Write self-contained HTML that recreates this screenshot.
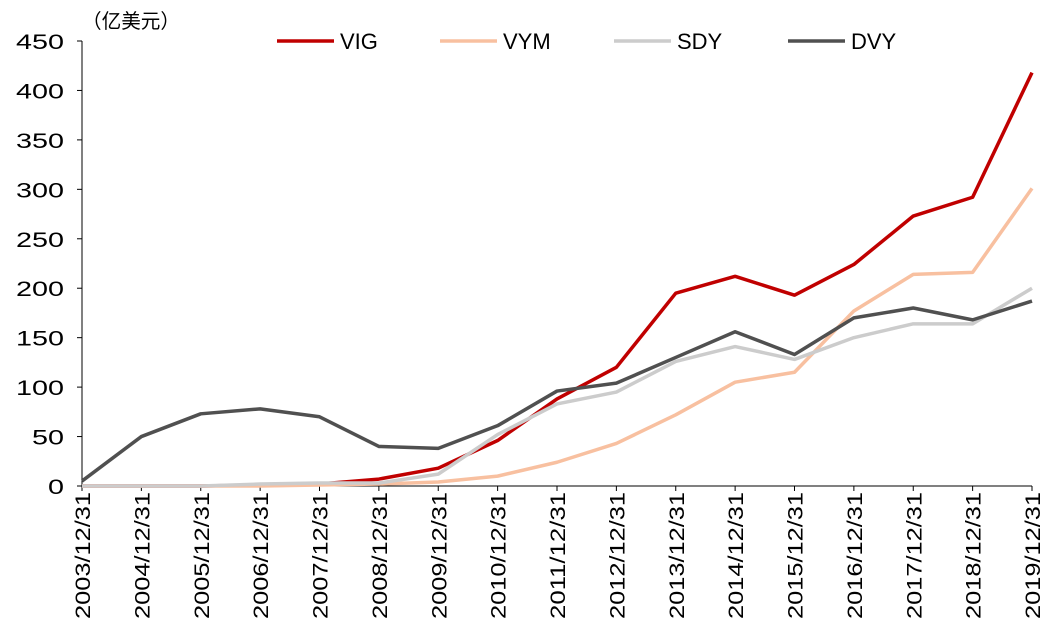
<!DOCTYPE html>
<html><head><meta charset="utf-8"><style>
body{margin:0;background:#fff;}
svg text{font-family:"Liberation Sans","Noto Sans CJK SC",sans-serif;fill:#000;}
</style></head><body>
<svg id="chart" width="1059" height="636" viewBox="0 0 1059 636" xmlns="http://www.w3.org/2000/svg">
<text x="82" y="28" font-size="20" textLength="98" lengthAdjust="spacingAndGlyphs">（亿美元）</text>
<g id="axes"></g><g id="lines"></g><g id="legend"></g>
</svg>
<script>
const categories=["2003/12/31","2004/12/31","2005/12/31","2006/12/31","2007/12/31","2008/12/31","2009/12/31","2010/12/31","2011/12/31","2012/12/31","2013/12/31","2014/12/31","2015/12/31","2016/12/31","2017/12/31","2018/12/31","2019/12/31"];
const vig=[0,0,0,1,2,7,18,46,88,120,195,212,193,224,273,292,418];
const vym=[0,0,0,0,1,2,4,10,24,43,72,105,115,177,214,216,301];
const sdy=[0,0,0,2,3,3,12,52,83,95,126,141,128,150,164,164,200];
const dvy=[5,50,73,78,70,40,38,61,96,104,130,156,133,170,180,168,187];
const yTicks=[0,50,100,150,200,250,300,350,400,450];
const seriesNames=["VIG","VYM","SDY","DVY"];
const ns="http://www.w3.org/2000/svg";
const X0=82,X1=1032,Y0=486,Y1=41,YMAX=450;
const x=i=>X0+(X1-X0)*i/(categories.length-1);
const y=v=>Y0-(Y0-Y1)*v/YMAX;
function mk(t,a,p){const e=document.createElementNS(ns,t);for(const k in a)e.setAttribute(k,a[k]);p.appendChild(e);return e;}
const ax=document.getElementById('axes');
let yl=mk('line',{x1:X0,y1:Y1,x2:X0,y2:Y0,stroke:'#000','stroke-width':1},ax);


let xl=mk('line',{x1:X0,y1:Y0,x2:X1,y2:Y0,stroke:'#000','stroke-width':1},ax);


yTicks.forEach(v=>{
 mk('line',{x1:X0-5,y1:y(v),x2:X0,y2:y(v),stroke:'#000'},ax);
 const s=String(v);
 const t=mk('text',{x:X0-18,y:y(v)+8,'text-anchor':'end','font-size':21,textLength:s.length*16,lengthAdjust:'spacingAndGlyphs'},ax);t.textContent=s;
 
 
});
categories.forEach((c,i)=>{
 mk('line',{x1:x(i),y1:Y0,x2:x(i),y2:Y0+5,stroke:'#000'},ax);
 const t=mk('text',{transform:`translate(${x(i)+8},492) rotate(-90)`,'text-anchor':'end','font-size':21,textLength:127,lengthAdjust:'spacingAndGlyphs'},ax);t.textContent=c;
 
 
});
const data=[vig,vym,sdy,dvy];
const colors=["#c00000","#f8c0a0","#cccccc","#505050"];
const lg=document.getElementById('lines');
data.forEach((d,s)=>{
 const p=mk('polyline',{points:d.map((v,i)=>x(i)+','+y(v)).join(' '),fill:'none',stroke:colors[s],'stroke-width':3.5,'stroke-linejoin':'round'},lg);
 
 
});
const leg=document.getElementById('legend');
const lx=[277,440,614,788];
seriesNames.forEach((n,s)=>{
 const g=mk('g',{},leg);
 
 
 mk('line',{x1:lx[s],y1:41,x2:lx[s]+57,y2:41,stroke:colors[s],'stroke-width':3.5},g);
 const t=mk('text',{x:lx[s]+63,y:49,'font-size':22},g);t.textContent=n;
});
</script>
</body></html>
